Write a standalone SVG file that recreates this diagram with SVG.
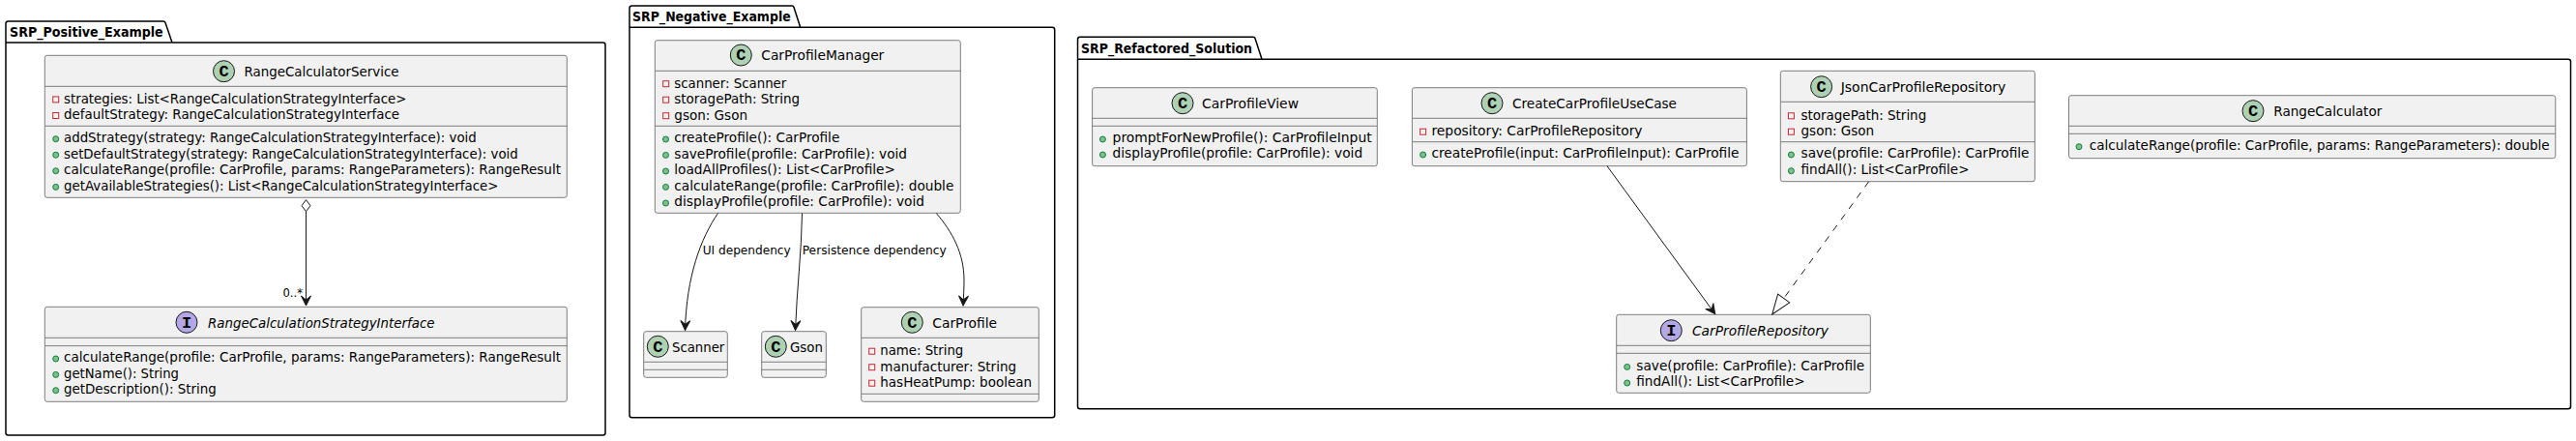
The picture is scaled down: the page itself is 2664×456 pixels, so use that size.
<svg xmlns="http://www.w3.org/2000/svg" width="2664" height="456" viewBox="0 0 2664 456">
<style>
text{font-family:"DejaVu Sans","Liberation Sans",sans-serif;font-size:14px;fill:#000}
.pk{fill:none;stroke:#000;stroke-width:1.5;stroke-linejoin:round}
.pt{font-weight:bold}
.b{fill:#F1F1F1;stroke:#7d7d7d;stroke-width:1}
.d{stroke:#7d7d7d;stroke-width:1;fill:none}
.cc{fill:#ADD1B2;stroke:#181818;stroke-width:1}
.ci{fill:#B4A7E5;stroke:#181818;stroke-width:1}
.g{font-family:"Liberation Mono","DejaVu Sans Mono",monospace;font-weight:bold;font-size:17px;text-anchor:middle}
.it{font-style:italic}
.a{fill:none;stroke:#C82930;stroke-width:1}
.m{fill:#84BE84;stroke:#038048;stroke-width:1}
.l{font-size:13px}
.e{fill:none;stroke:#181818;stroke-width:1}
.ar{marker-end:url(#arrow)}
</style>
<defs>
<marker id="arrow" markerUnits="userSpaceOnUse" markerWidth="12" markerHeight="12" refX="10" refY="5" orient="auto" overflow="visible"><path d="M10,5 L0,0 L4,5 L0,10 Z" fill="#181818" stroke="#181818" stroke-width="1"/></marker>
<marker id="dia" markerUnits="userSpaceOnUse" markerWidth="14" markerHeight="12" refX="0" refY="4.5" orient="auto" overflow="visible"><path d="M0,4.5 L6,0 L12,4.5 L6,9 Z" fill="#fff" stroke="#181818" stroke-width="1"/></marker>
<marker id="tri" markerUnits="userSpaceOnUse" markerWidth="22" markerHeight="16" refX="0" refY="7.5" orient="auto" overflow="visible"><path d="M0,0 L20.4,7.5 L0,15 Z" fill="#fff" stroke="#181818" stroke-width="1"/></marker>
</defs>

<g id="pkg-positive">
<path class="pk" d="M6,44 L6,24.5 Q6,22 8.5,22 L169,22 Q170.500,22 171,23.500 L178,44 L623.500,44 Q626,44 626,46.500 L626,447.500 Q626,450 623.500,450 L8.500,450 Q6,450 6,447.500 Z M6,44 L178,44"/>
<text class="pt" x="10" y="37.700" textLength="158.700" lengthAdjust="spacingAndGlyphs">SRP_Positive_Example</text>
</g>
<g id="pkg-negative">
<path class="pk" d="M651,28.300 L651,8.500 Q651,6 653.500,6 L819,6 Q820.500,6 821,7.500 L827.700,28.300 L1088.200,28.300 Q1090.700,28.300 1090.700,30.800 L1090.700,429.200 Q1090.700,431.700 1088.200,431.700 L653.500,431.700 Q651,431.700 651,429.200 Z M651,28.300 L827.700,28.300"/>
<text class="pt" x="654" y="21.700" textLength="163.700" lengthAdjust="spacingAndGlyphs">SRP_Negative_Example</text>
</g>
<g id="pkg-refactored">
<path class="pk" d="M1114.500,61.300 L1114.500,40.800 Q1114.500,38.300 1117,38.300 L1296,38.300 Q1297.500,38.300 1298,39.800 L1305,61.300 L2656,61.300 Q2658.500,61.300 2658.500,63.800 L2658.500,420.200 Q2658.500,422.700 2656,422.700 L1117,422.700 Q1114.500,422.700 1114.500,420.200 Z M1114.500,61.300 L1305,61.300"/>
<text class="pt" x="1118" y="55" textLength="177" lengthAdjust="spacingAndGlyphs">SRP_Refactored_Solution</text>
</g>

<g id="RangeCalculatorService">
<rect class="b" x="46.300" y="57.300" width="540" height="147" rx="2.500"/>
<path class="d" d="M46.300,89.300 H586.300 M46.300,130.300 H586.300"/>
<circle class="cc" cx="231.500" cy="73.700" r="11"/><text class="g" x="231.500" y="79">C</text>
<text x="252.500" y="79" textLength="160" lengthAdjust="spacingAndGlyphs">RangeCalculatorService</text>
<rect class="a" x="54.700" y="99.900" width="6" height="6"/><text x="66" y="106.700" textLength="354.400" lengthAdjust="spacingAndGlyphs">strategies: List&lt;RangeCalculationStrategyInterface&gt;</text>
<rect class="a" x="54.700" y="116.500" width="6" height="6"/><text x="66" y="123.300" textLength="347" lengthAdjust="spacingAndGlyphs">defaultStrategy: RangeCalculationStrategyInterface</text>
<circle class="m" cx="57.700" cy="143.700" r="3"/><text x="66" y="147" textLength="426.800" lengthAdjust="spacingAndGlyphs">addStrategy(strategy: RangeCalculationStrategyInterface): void</text>
<circle class="m" cx="57.700" cy="160.200" r="3"/><text x="66" y="163.500" textLength="469.700" lengthAdjust="spacingAndGlyphs">setDefaultStrategy(strategy: RangeCalculationStrategyInterface): void</text>
<circle class="m" cx="57.700" cy="176.700" r="3"/><text x="66" y="180" textLength="514" lengthAdjust="spacingAndGlyphs">calculateRange(profile: CarProfile, params: RangeParameters): RangeResult</text>
<circle class="m" cx="57.700" cy="193.400" r="3"/><text x="66" y="196.700" textLength="449.500" lengthAdjust="spacingAndGlyphs">getAvailableStrategies(): List&lt;RangeCalculationStrategyInterface&gt;</text>
</g>
<g id="RangeCalculationStrategyInterface">
<rect class="b" x="46.300" y="317.300" width="540" height="98" rx="2.500"/>
<path class="d" d="M46.300,349.300 H586.300 M46.300,357.600 H586.300"/>
<circle class="ci" cx="193" cy="333.300" r="11"/><text class="g" x="193" y="338.700">I</text>
<text class="it" x="215" y="338.700" textLength="234.500" lengthAdjust="spacingAndGlyphs">RangeCalculationStrategyInterface</text>
<circle class="m" cx="57.700" cy="371" r="3"/><text x="66" y="374.300" textLength="514" lengthAdjust="spacingAndGlyphs">calculateRange(profile: CarProfile, params: RangeParameters): RangeResult</text>
<circle class="m" cx="57.700" cy="387.400" r="3"/><text x="66" y="390.700" textLength="119" lengthAdjust="spacingAndGlyphs">getName(): String</text>
<circle class="m" cx="57.700" cy="403.700" r="3"/><text x="66" y="407" textLength="157.800" lengthAdjust="spacingAndGlyphs">getDescription(): String</text>
</g>

<g id="CarProfileManager">
<rect class="b" x="677.300" y="41.700" width="316" height="178.600" rx="2.500"/>
<path class="d" d="M677.300,73.300 H993.300 M677.300,130.300 H993.300"/>
<circle class="cc" cx="766.300" cy="57" r="11"/><text class="g" x="766.300" y="62.300">C</text>
<text x="787.300" y="62" textLength="127" lengthAdjust="spacingAndGlyphs">CarProfileManager</text>
<rect class="a" x="685.700" y="83.700" width="6" height="6"/><text x="697.300" y="90.700" textLength="116" lengthAdjust="spacingAndGlyphs">scanner: Scanner</text>
<rect class="a" x="685.700" y="100.200" width="6" height="6"/><text x="697.300" y="107" textLength="129.700" lengthAdjust="spacingAndGlyphs">storagePath: String</text>
<rect class="a" x="685.700" y="116.700" width="6" height="6"/><text x="697.300" y="123.700" textLength="75.700" lengthAdjust="spacingAndGlyphs">gson: Gson</text>
<circle class="m" cx="688.500" cy="144" r="3"/><text x="697.300" y="147.300" textLength="171" lengthAdjust="spacingAndGlyphs">createProfile(): CarProfile</text>
<circle class="m" cx="688.500" cy="160.400" r="3"/><text x="697.300" y="163.700" textLength="240.700" lengthAdjust="spacingAndGlyphs">saveProfile(profile: CarProfile): void</text>
<circle class="m" cx="688.500" cy="177" r="3"/><text x="697.300" y="180.300" textLength="228.700" lengthAdjust="spacingAndGlyphs">loadAllProfiles(): List&lt;CarProfile&gt;</text>
<circle class="m" cx="688.500" cy="193.400" r="3"/><text x="697.300" y="196.700" textLength="289" lengthAdjust="spacingAndGlyphs">calculateRange(profile: CarProfile): double</text>
<circle class="m" cx="688.500" cy="210" r="3"/><text x="697.300" y="213.300" textLength="258.700" lengthAdjust="spacingAndGlyphs">displayProfile(profile: CarProfile): void</text>
</g>
<g id="Scanner">
<rect class="b" x="665.700" y="342.700" width="86.600" height="47.600" rx="2.500"/>
<path class="d" d="M665.700,374.300 H752.300 M665.700,382.300 H752.300"/>
<circle class="cc" cx="680.300" cy="358.300" r="11"/><text class="g" x="680.300" y="363.700">C</text>
<text x="695" y="363.700" textLength="54.300" lengthAdjust="spacingAndGlyphs">Scanner</text>
</g>
<g id="Gson">
<rect class="b" x="787.700" y="342.700" width="66.600" height="47.600" rx="2.500"/>
<path class="d" d="M787.700,374.300 H854.300 M787.700,382.300 H854.300"/>
<circle class="cc" cx="802.300" cy="358.300" r="11"/><text class="g" x="802.300" y="363.700">C</text>
<text x="817" y="363.700" textLength="34" lengthAdjust="spacingAndGlyphs">Gson</text>
</g>
<g id="CarProfile">
<rect class="b" x="890.700" y="317.700" width="183.600" height="97.600" rx="2.500"/>
<path class="d" d="M890.700,349.300 H1074.300 M890.700,407.300 H1074.300"/>
<circle class="cc" cx="943.300" cy="333.300" r="11"/><text class="g" x="943.300" y="338.700">C</text>
<text x="964.300" y="338.700" textLength="66.700" lengthAdjust="spacingAndGlyphs">CarProfile</text>
<rect class="a" x="898.700" y="360.200" width="6" height="6"/><text x="910.300" y="367" textLength="86" lengthAdjust="spacingAndGlyphs">name: String</text>
<rect class="a" x="898.700" y="376.700" width="6" height="6"/><text x="910.300" y="383.700" textLength="140.700" lengthAdjust="spacingAndGlyphs">manufacturer: String</text>
<rect class="a" x="898.700" y="393.200" width="6" height="6"/><text x="910.300" y="400" textLength="156.700" lengthAdjust="spacingAndGlyphs">hasHeatPump: boolean</text>
</g>

<g id="CarProfileView">
<rect class="b" x="1129.600" y="90.700" width="294.700" height="81" rx="2.500"/>
<path class="d" d="M1129.600,122.300 H1424.300 M1129.600,130.300 H1424.300"/>
<circle class="cc" cx="1223" cy="106.700" r="11"/><text class="g" x="1223" y="112">C</text>
<text x="1243" y="112" textLength="100" lengthAdjust="spacingAndGlyphs">CarProfileView</text>
<circle class="m" cx="1140.400" cy="144" r="3"/><text x="1150.600" y="147.300" textLength="268" lengthAdjust="spacingAndGlyphs">promptForNewProfile(): CarProfileInput</text>
<circle class="m" cx="1140.400" cy="160" r="3"/><text x="1150.600" y="163.300" textLength="258.500" lengthAdjust="spacingAndGlyphs">displayProfile(profile: CarProfile): void</text>
</g>
<g id="CreateCarProfileUseCase">
<rect class="b" x="1460.400" y="90.700" width="346" height="81" rx="2.500"/>
<path class="d" d="M1460.400,122.300 H1806.400 M1460.400,146.700 H1806.400"/>
<circle class="cc" cx="1543" cy="106.700" r="11"/><text class="g" x="1543" y="112">C</text>
<text x="1564" y="112" textLength="170" lengthAdjust="spacingAndGlyphs">CreateCarProfileUseCase</text>
<rect class="a" x="1468.600" y="133.200" width="6" height="6"/><text x="1480.500" y="140" textLength="218" lengthAdjust="spacingAndGlyphs">repository: CarProfileRepository</text>
<circle class="m" cx="1471.600" cy="160" r="3"/><text x="1480.500" y="163.300" textLength="318" lengthAdjust="spacingAndGlyphs">createProfile(input: CarProfileInput): CarProfile</text>
</g>
<g id="JsonCarProfileRepository">
<rect class="b" x="1841.300" y="73.300" width="263.100" height="114.400" rx="2.500"/>
<path class="d" d="M1841.300,105.300 H2104.400 M1841.300,146.700 H2104.400"/>
<circle class="cc" cx="1883.600" cy="89.700" r="11"/><text class="g" x="1883.600" y="95">C</text>
<text x="1903.700" y="95" textLength="170.600" lengthAdjust="spacingAndGlyphs">JsonCarProfileRepository</text>
<rect class="a" x="1849.400" y="116.800" width="6" height="6"/><text x="1862.500" y="123.700" textLength="129.700" lengthAdjust="spacingAndGlyphs">storagePath: String</text>
<rect class="a" x="1849.400" y="133.200" width="6" height="6"/><text x="1862.500" y="140" textLength="75.700" lengthAdjust="spacingAndGlyphs">gson: Gson</text>
<circle class="m" cx="1852.400" cy="160" r="3"/><text x="1862.500" y="163.300" textLength="236" lengthAdjust="spacingAndGlyphs">save(profile: CarProfile): CarProfile</text>
<circle class="m" cx="1852.400" cy="176.700" r="3"/><text x="1862.500" y="180" textLength="174" lengthAdjust="spacingAndGlyphs">findAll(): List&lt;CarProfile&gt;</text>
</g>
<g id="RangeCalculator">
<rect class="b" x="2139.500" y="98.700" width="503.300" height="65" rx="2.500"/>
<path class="d" d="M2139.500,130.300 H2642.800 M2139.500,138.300 H2642.800"/>
<circle class="cc" cx="2330" cy="114.700" r="11"/><text class="g" x="2330" y="120">C</text>
<text x="2351.300" y="120" textLength="112" lengthAdjust="spacingAndGlyphs">RangeCalculator</text>
<circle class="m" cx="2150" cy="151.700" r="3"/><text x="2160.700" y="155" textLength="476" lengthAdjust="spacingAndGlyphs">calculateRange(profile: CarProfile, params: RangeParameters): double</text>
</g>
<g id="CarProfileRepository">
<rect class="b" x="1671.700" y="325.300" width="262.600" height="81" rx="2.500"/>
<path class="d" d="M1671.700,357.300 H1934.300 M1671.700,365.300 H1934.300"/>
<circle class="ci" cx="1728.300" cy="341.700" r="11"/><text class="g" x="1728.300" y="347">I</text>
<text class="it" x="1750" y="347" textLength="141" lengthAdjust="spacingAndGlyphs">CarProfileRepository</text>
<circle class="m" cx="1682.700" cy="379.400" r="3"/><text x="1692.300" y="382.700" textLength="236" lengthAdjust="spacingAndGlyphs">save(profile: CarProfile): CarProfile</text>
<circle class="m" cx="1682.700" cy="396" r="3"/><text x="1692.300" y="399.300" textLength="174.300" lengthAdjust="spacingAndGlyphs">findAll(): List&lt;CarProfile&gt;</text>
</g>

<g id="connectors">
<path class="e ar" d="M316.500,206.700 V316" marker-start="url(#dia)"/>
<text class="l" x="292.500" y="306.700" textLength="20.500" lengthAdjust="spacingAndGlyphs">0..*</text>
<path class="e ar" d="M742.500,220.500 C725,246 710,285 708.500,341.500"/>
<text class="l" x="726.700" y="263.300" textLength="91" lengthAdjust="spacingAndGlyphs">UI dependency</text>
<path class="e ar" d="M829.500,220.500 C829,260 824,300 822.500,341.500"/>
<text class="l" x="829.700" y="263.300" textLength="149" lengthAdjust="spacingAndGlyphs">Persistence dependency</text>
<path class="e ar" d="M968.300,220.500 C985,240 997,262 997,290 C997,298 996.500,306 996,316"/>
<path class="e ar" d="M1662,171.700 L1773.700,324.700"/>
<path class="e" stroke-dasharray="7,7" d="M1932.700,187.700 L1844.700,308.500" marker-end="url(#tri)"/>
</g>
</svg>
